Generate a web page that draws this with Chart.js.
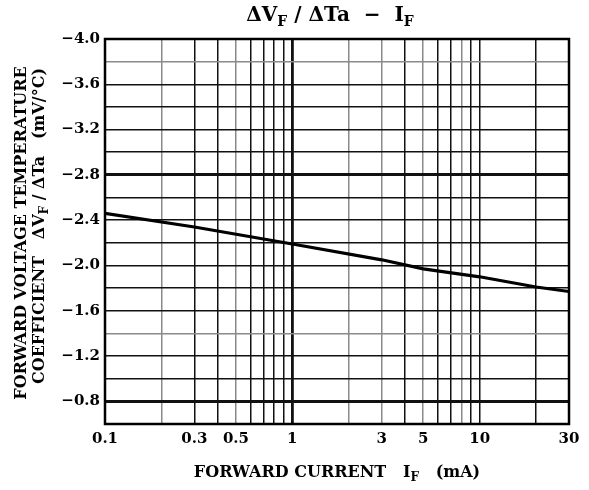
<!DOCTYPE html>
<html>
<head>
<meta charset="utf-8">
<script src="https://cdn.jsdelivr.net/npm/chart.js@4/dist/chart.umd.min.js"></script>
<style>
html,body{margin:0;padding:0;background:#fff;}
#wrap{width:589px;height:490px;position:relative;}
</style>
</head>
<body>
<div id="wrap"><canvas id="c" width="589" height="490"></canvas></div>
<script>
// ---- data ----
const currentMA = [0.1, 0.3, 1, 3, 5, 10, 20, 30];
const coeffMVperC = [-2.46, -2.34, -2.19, -2.05, -1.97, -1.90, -1.81, -1.77];
const xGridValues = [0.1,0.2,0.3,0.4,0.5,0.6,0.7,0.8,0.9,1,2,3,4,5,6,7,8,9,10,20,30];
const xLabelValues = [0.1, 0.3, 0.5, 1, 3, 5, 10, 30];
const yGridValues = [-4.0,-3.8,-3.6,-3.4,-3.2,-3.0,-2.8,-2.6,-2.4,-2.2,-2.0,-1.8,-1.6,-1.4,-1.2,-1.0,-0.8,-0.6];
const yLabelValues = [-4.0,-3.6,-3.2,-2.8,-2.4,-2.0,-1.6,-1.2,-0.8];
const titleParts = [["ΔV",0],["F",1],[" / ΔTa  −  I",0],["F",1]];
const xTitleParts = [["FORWARD CURRENT   I",0],["F",1],["   (mA)",0]];
const yTitleLine1 = [["FORWARD VOLTAGE TEMPERATURE",0]];
const yTitleLine2 = [["COEFFICIENT   ΔV",0],["F",1],[" / ΔTa   (mV/°C)",0]];

const FAM = "'DejaVu Serif', serif";
const grayX = [0.2, 0.5, 2, 3, 5, 8];
const thickX = [1];
const grayY = [-3.8, -1.4];
const thickY = [-2.8, -0.8];
const near = (a, list) => list.some(v => Math.abs(v - a) < 1e-6);

function drawRich(ctx, parts, cx, cy, size) {
  const big = "bold " + size + "px " + FAM;
  const small = "bold " + Math.round(size * 0.72) + "px " + FAM;
  let w = 0;
  parts.forEach(p => { ctx.font = p[1] ? small : big; w += ctx.measureText(p[0]).width; });
  let x = cx - w / 2;
  ctx.textBaseline = "middle";
  ctx.textAlign = "left";
  ctx.fillStyle = "#000";
  parts.forEach(p => {
    ctx.font = p[1] ? small : big;
    ctx.fillText(p[0], x, cy + (p[1] ? size * 0.3 : 0));
    x += ctx.measureText(p[0]).width;
  });
}

const decor = {
  id: "decor",
  afterDraw(chart) {
    const ctx = chart.ctx, a = chart.chartArea;
    ctx.save();
    ctx.strokeStyle = "#000";
    ctx.lineWidth = 2.5;
    ctx.strokeRect(a.left, a.top, a.right - a.left, a.bottom - a.top);
    drawRich(ctx, titleParts, 330, 16, 20);
    drawRich(ctx, xTitleParts, 337, 473, 16);
    ctx.save();
    ctx.translate(22, 233);
    ctx.rotate(-Math.PI / 2);
    drawRich(ctx, yTitleLine1, 0, 0, 16);
    ctx.restore();
    ctx.save();
    ctx.translate(40, 226);
    ctx.rotate(-Math.PI / 2);
    drawRich(ctx, yTitleLine2, 0, 0, 16);
    ctx.restore();
    ctx.restore();
  }
};

new Chart(document.getElementById("c"), {
  type: "line",
  data: {
    datasets: [{
      data: currentMA.map((x, i) => ({x: x, y: coeffMVperC[i]})),
      borderColor: "#000",
      borderWidth: 3.2,
      pointRadius: 0,
      tension: 0,
      fill: false
    }]
  },
  options: {
    responsive: false,
    animation: false,
    events: [],
    layout: {padding: {left: 0, right: 20, top: 39, bottom: 0}},
    plugins: {legend: {display: false}, tooltip: {enabled: false}, title: {display: false}},
    scales: {
      x: {
        type: "logarithmic",
        min: 0.1, max: 30,
        afterBuildTicks: s => { s.ticks = xGridValues.map(v => ({value: v})); },
        afterFit: s => { s.height = 66; },
        border: {display: false},
        grid: {
          drawTicks: false,
          color: c => near(c.tick.value, grayX) ? "#8a8a8a" : "#111",
          lineWidth: c => near(c.tick.value, thickX) ? 2.8 : 1.5
        },
        ticks: {
          autoSkip: false, maxRotation: 0, padding: 6,
          color: "#000",
          font: {family: FAM, size: 15, weight: "bold"},
          callback: v => near(v, xLabelValues) ? String(v) : ""
        }
      },
      y: {
        type: "linear",
        reverse: true,
        min: -4.0, max: -0.6,
        afterBuildTicks: s => { s.ticks = yGridValues.map(v => ({value: v})); },
        afterFit: s => { s.width = 105; },
        border: {display: false},
        grid: {
          drawTicks: false,
          color: c => near(c.tick.value, grayY) ? "#8a8a8a" : "#111",
          lineWidth: c => near(c.tick.value, thickY) ? 3 : 1.5
        },
        ticks: {
          autoSkip: false, padding: 5,
          color: "#000",
          font: {family: FAM, size: 15, weight: "bold"},
          callback: v => near(v, yLabelValues) ? "−" + Math.abs(v).toFixed(1) : ""
        }
      }
    }
  },
  plugins: [decor]
});
</script>
</body>
</html>
